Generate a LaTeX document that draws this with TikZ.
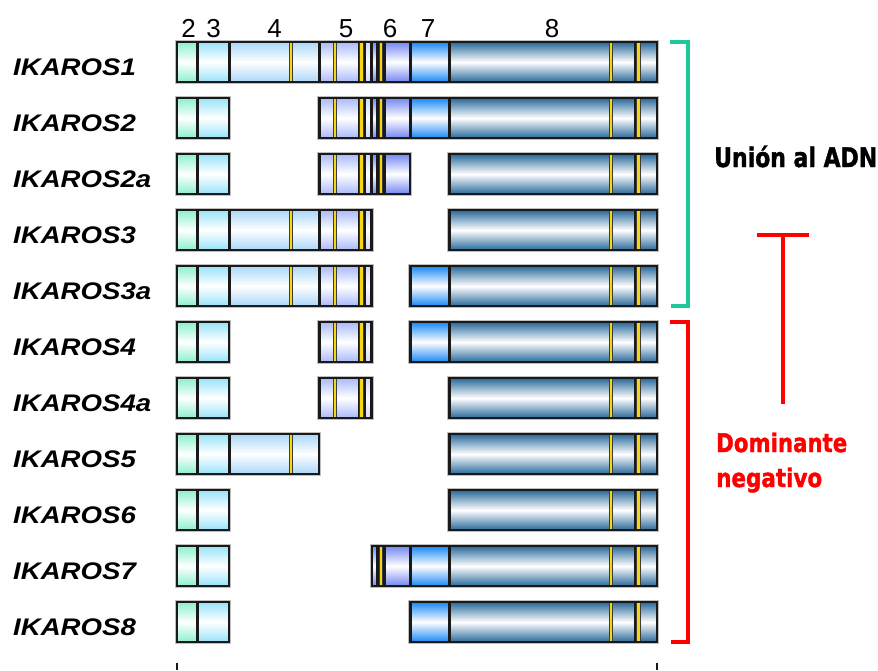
\documentclass[tikz,border=0pt]{standalone}
\usepackage{fontspec}
\setmainfont{Liberation Sans}
\newfontfamily\dvs{DejaVu Sans}[FakeBold=1.6]
\usepackage{graphicx}
\definecolor{exA}{RGB}{140,240,205}
\definecolor{exB}{RGB}{150,228,250}
\definecolor{exC}{RGB}{170,215,250}
\definecolor{exD}{RGB}{170,185,250}
\definecolor{exDl}{RGB}{205,215,252}
\definecolor{exDb}{RGB}{110,140,245}
\definecolor{exE}{RGB}{115,135,242}
\definecolor{exF}{RGB}{25,135,245}
\definecolor{exG}{RGB}{40,105,155}
\definecolor{ylw}{RGB}{245,215,20}
\definecolor{dk}{RGB}{25,25,25}
\definecolor{gbr}{RGB}{30,200,155}
\definecolor{rbr}{RGB}{255,0,0}
\tikzset{
  outl/.style={draw=dk, line width=2.8pt},
  shad/.style={draw=black!25, line width=4.5pt},
  sepl/.style={draw=dk, line width=3pt},
  ystripe/.style={fill=ylw, draw=dk!85, line width=1.2pt},
  lab/.style={inner sep=0pt, anchor=base west, font=\fontsize{24}{24}\selectfont\bfseries\itshape},
  exn/.style={inner sep=0pt, anchor=base, font=\fontsize{26}{26}\selectfont},
  brk/.style={line width=3.2pt},
}
\newcommand\fullbar[1]{%
  \foreach \p/\q/\c in {177/197/exA, 197/229/exB, 229/319/exC, 319/359/exD, 359/371/exDl, 371/377/exDb, 377/384/exD, 384/410/exE, 410/449/exF, 449/657/exG}{%
    \shade[top color=\c, bottom color=\c, middle color=white] (\p,#1-20) rectangle (\q,#1+20);}%
  \foreach \s in {197,229,319,359,364,371,377,384,410,449,635}{%
    \draw[sepl] (\s,#1-20) -- (\s,#1+20);}%
  \foreach \s in {291,335,361.5,381,611,638.5}{%
    \draw[ystripe] (\s-1.8,#1-20) rectangle (\s+1.8,#1+20);}%
}
\begin{document}
\begin{tikzpicture}[x=1pt,y=-1pt]
\useasboundingbox (0,0) rectangle (878,670);
% bars
\foreach \y/\pcs in {62/{177/657}, 118/{177/229,319/657}, 174/{177/229,319/410,449/657}, 230/{177/372,449/657}, 286/{177/372,410/657}, 342/{177/229,319/372,410/657}, 398/{177/229,319/372,449/657}, 454/{177/319,449/657}, 510/{177/229,449/657}, 566/{177/229,372/657}, 622/{177/229,410/657}}{%
  \foreach \a/\b in \pcs {%
    \draw[shad] (\a,\y-20) rectangle (\b,\y+20);
    \begin{scope}
      \clip (\a,\y-20) rectangle (\b,\y+20);
      \fullbar{\y}
    \end{scope}
    \draw[outl] (\a,\y-20) rectangle (\b,\y+20);
  }
}
% exon numbers
\node[exn] (e2) at (188.5,37) {2};
\node[exn] (e3) at (213.5,37) {3};
\node[exn] (e4) at (274.5,37) {4};
\node[exn] (e5) at (346,37) {5};
\node[exn] (e6) at (390,37) {6};
\node[exn] (e7) at (428,37) {7};
\node[exn] (e8) at (552,37) {8};
% labels
\node[lab] (l1) at (13,75) {\scalebox{1.15}[1]{IKAROS1}};
\node[lab] (l2) at (13,131) {\scalebox{1.15}[1]{IKAROS2}};
\node[lab] (l2a) at (13,187) {\scalebox{1.15}[1]{IKAROS2a}};
\node[lab] (l3) at (13,243) {\scalebox{1.15}[1]{IKAROS3}};
\node[lab] (l3a) at (13,299) {\scalebox{1.15}[1]{IKAROS3a}};
\node[lab] (l4) at (13,355) {\scalebox{1.15}[1]{IKAROS4}};
\node[lab] (l4a) at (13,411) {\scalebox{1.15}[1]{IKAROS4a}};
\node[lab] (l5) at (13,467) {\scalebox{1.15}[1]{IKAROS5}};
\node[lab] (l6) at (13,523) {\scalebox{1.15}[1]{IKAROS6}};
\node[lab] (l7) at (13,579) {\scalebox{1.15}[1]{IKAROS7}};
\node[lab] (l8) at (13,635) {\scalebox{1.15}[1]{IKAROS8}};
% brackets
\draw[brk, gbr] (670,42) -- (688,42) -- (688,306) -- (671,306);
\draw[brk, rbr] (670,322) -- (688,322) -- (688,642) -- (671,642);
% inhibition T
\draw[rbr, line width=4.5pt] (757,235) -- (809,235);
\draw[rbr, line width=4.5pt] (783,235) -- (783,404);
% side texts
\node[inner sep=0pt, anchor=base west] (union) at (714,167) {\resizebox{163pt}{21.5pt}{\dvs\bfseries Unión al ADN}};
\node[inner sep=0pt, anchor=base west, text=rbr] (dom) at (716,452) {\resizebox{131pt}{19.5pt}{\dvs\bfseries Dominante}};
\node[inner sep=0pt, anchor=base west, text=rbr] (neg) at (716,487) {\resizebox{106pt}{19.5pt}{\dvs\bfseries negativo}};
% bottom ticks
\draw[dk, line width=2.5pt] (177,663) -- (177,670);
\draw[dk, line width=2.5pt] (657,663) -- (657,670);
\end{tikzpicture}
\end{document}
